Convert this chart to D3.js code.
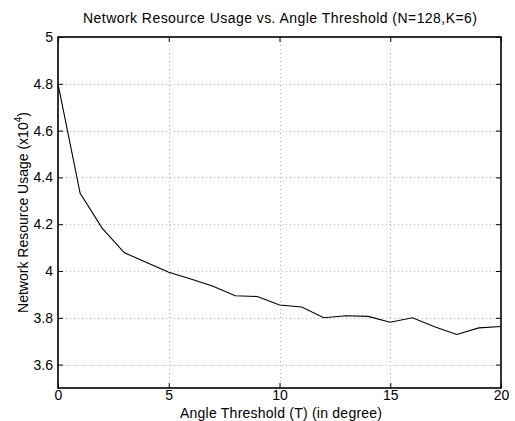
<!DOCTYPE html>
<html>
<head>
<meta charset="utf-8">
<script src="https://cdn.jsdelivr.net/npm/d3@7"></script>
<style>
  html, body { margin: 0; padding: 0; background: #fff; }
  svg { display: block; font-family: "Liberation Sans", Arial, Helvetica, sans-serif; }
</style>
</head>
<body>
<svg id="chart" width="515" height="421"></svg>
<script>
// angle threshold (degrees) and network resource usage (x10^4)
const thresholds = [0, 1, 2, 3, 4, 5, 6, 7, 8, 9, 10, 11, 12, 13, 14, 15, 16, 17, 18, 19, 20];
const usage = [4.80, 4.332, 4.182, 4.078, 4.036, 3.995, 3.966, 3.935, 3.894, 3.891, 3.855,
               3.846, 3.800, 3.809, 3.806, 3.781, 3.800, 3.762, 3.729, 3.757, 3.763];
const xTicks = [0, 5, 10, 15, 20];
const yTicks = [3.6, 3.8, 4, 4.2, 4.4, 4.6, 4.8, 5];

const svg = d3.select('#chart');
const margin = { left: 58, right: 14, top: 37, bottom: 33 };
const width = 515, height = 421;

const x = d3.scaleLinear().domain([0, 20]).range([margin.left, width - margin.right]);
const y = d3.scaleLinear().domain([3.5, 5]).range([height - margin.bottom, margin.top]);

// grid
const grid = svg.append('g')
  .attr('stroke', '#b0b0b0')
  .attr('stroke-width', 1)
  .attr('stroke-dasharray', '1,3');

grid.selectAll('.gx')
  .data(xTicks.filter(d => d > 0 && d < 20))
  .enter().append('line')
  .attr('x1', d => Math.round(x(d)) + 0.5).attr('x2', d => Math.round(x(d)) + 0.5)
  .attr('y1', y(5)).attr('y2', y(3.5));

grid.selectAll('.gy')
  .data(yTicks)
  .enter().append('line')
  .attr('x1', x(0)).attr('x2', x(20))
  .attr('y1', d => Math.round(y(d)) + 0.5).attr('y2', d => Math.round(y(d)) + 0.5);

// data line
const line = d3.line()
  .x((d, i) => x(thresholds[i]))
  .y(d => y(d));

svg.append('path')
  .datum(usage)
  .attr('d', line)
  .attr('fill', 'none')
  .attr('stroke', '#000')
  .attr('stroke-width', 1.1);

// axes (MATLAB style, inward ticks, box)
const tickLen = 5;
const axisBottom = d3.axisBottom(x).tickValues(xTicks).tickSize(-tickLen).tickPadding(2).tickFormat(d3.format('d'));
const axisTop = d3.axisTop(x).tickValues(xTicks).tickSize(-tickLen).tickFormat('');
const axisLeft = d3.axisLeft(y).tickValues(yTicks).tickSize(-tickLen).tickPadding(5).tickFormat(d => d3.format('')(d));
const axisRight = d3.axisRight(y).tickValues(yTicks).tickSize(-tickLen).tickFormat('');

function styleAxis(g) {
  g.select('.domain').remove();
  g.selectAll('.tick line').attr('stroke', '#000').attr('stroke-width', 1);
  g.selectAll('.tick text').attr('fill', '#000').style('font-size', '14px');
}

svg.append('g').attr('transform', `translate(0,${y(3.5)})`).call(axisBottom).call(styleAxis);
svg.append('g').attr('transform', `translate(0,${y(5)})`).call(axisTop).call(styleAxis);
svg.append('g').attr('transform', `translate(${x(0)},0)`).call(axisLeft).call(styleAxis);
svg.append('g').attr('transform', `translate(${x(20)},0)`).call(axisRight).call(styleAxis);

svg.append('rect')
  .attr('x', x(0)).attr('y', y(5))
  .attr('width', x(20) - x(0)).attr('height', y(3.5) - y(5))
  .attr('fill', 'none')
  .attr('stroke', '#000')
  .attr('stroke-width', 1.6);

// title and labels
svg.append('text')
  .attr('x', 280)
  .attr('y', 23)
  .attr('text-anchor', 'middle')
  .attr('textLength', 394)
  .attr('lengthAdjust', 'spacing')
  .style('font-size', '14px')
  .text('Network Resource Usage vs. Angle Threshold (N=128,K=6)');

svg.append('text')
  .attr('x', 281)
  .attr('y', 418)
  .attr('text-anchor', 'middle')
  .attr('textLength', 202)
  .attr('lengthAdjust', 'spacing')
  .style('font-size', '14px')
  .text('Angle Threshold (T) (in degree)');

const yl = svg.append('text')
  .attr('transform', `translate(28,${(y(5) + y(3.5)) / 2}) rotate(-90)`)
  .attr('text-anchor', 'middle')
  .style('font-size', '14px');
yl.append('tspan').text('Network Resource Usage (x10');
yl.append('tspan').attr('dy', -6).style('font-size', '10px').text('4');
yl.append('tspan').attr('dy', 6).text(')');
</script>
</body>
</html>
